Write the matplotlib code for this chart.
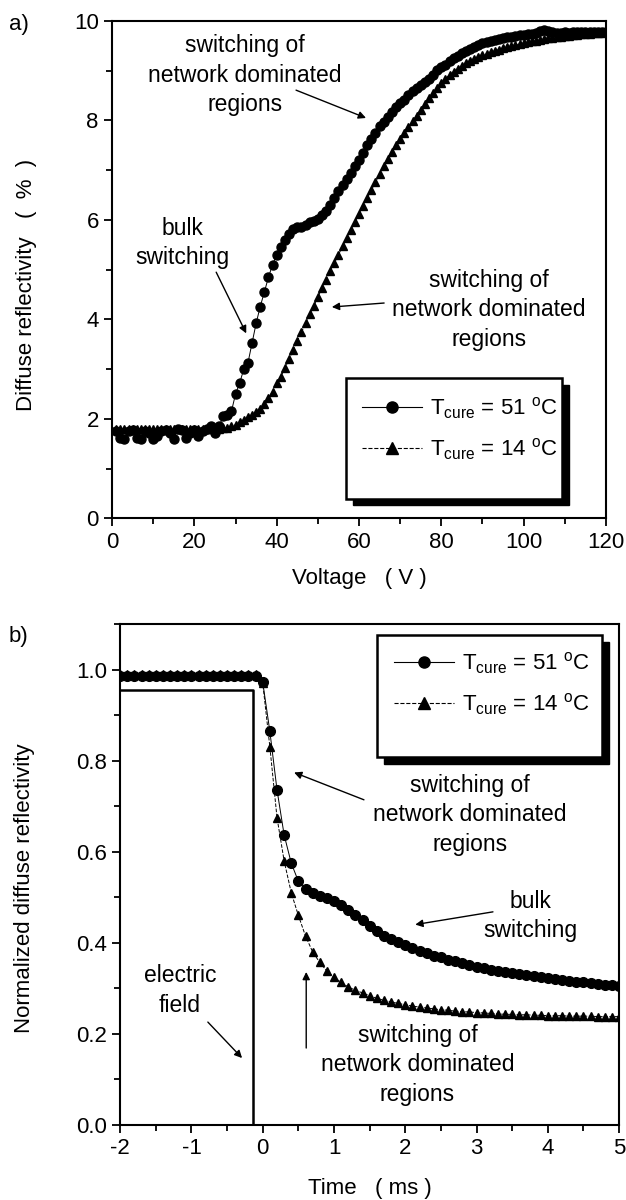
import numpy as np
import matplotlib.pyplot as plt
from matplotlib.patches import Rectangle
from matplotlib.lines import Line2D

plt.rcParams['font.family'] = ['Liberation Sans', 'DejaVu Sans']
plt.rcParams['mathtext.fontset'] = 'custom'
plt.rcParams['mathtext.rm'] = 'Liberation Sans'
plt.rcParams['mathtext.it'] = 'Liberation Sans:italic'
plt.rcParams['axes.unicode_minus'] = False

# =============================
# data: a) reflectivity vs voltage
# =============================
voltage = np.arange(1, 121)
refl_51 = [
    1.75, 1.62, 1.60, 1.75, 1.78, 1.62, 1.60, 1.75, 1.72, 1.60,
    1.65, 1.75, 1.78, 1.72, 1.60, 1.80, 1.78, 1.62, 1.72, 1.78,
    1.65, 1.75, 1.80, 1.85, 1.72, 1.85, 2.05, 2.08, 2.15, 2.50,
    2.72, 3.00, 3.12, 3.52, 3.92, 4.26, 4.55, 4.85, 5.10, 5.30,
    5.45, 5.60, 5.72, 5.82, 5.86, 5.85, 5.90, 5.95, 5.98, 6.02,
    6.10, 6.18, 6.30, 6.45, 6.58, 6.70, 6.82, 6.95, 7.08, 7.20,
    7.35, 7.50, 7.62, 7.74, 7.88, 7.97, 8.08, 8.18, 8.27, 8.36,
    8.42, 8.52, 8.60, 8.66, 8.72, 8.78, 8.84, 8.92, 9.02, 9.08,
    9.12, 9.20, 9.26, 9.30, 9.35, 9.40, 9.44, 9.48, 9.52, 9.55,
    9.58, 9.60, 9.62, 9.64, 9.66, 9.67, 9.68, 9.70, 9.71, 9.72,
    9.73, 9.74, 9.76, 9.80, 9.82, 9.80, 9.77, 9.76, 9.76, 9.77,
    9.76, 9.77, 9.78, 9.77, 9.78, 9.78, 9.77, 9.78, 9.78, 9.78,
]
refl_14 = [
    1.80, 1.80, 1.80, 1.80, 1.80, 1.80, 1.80, 1.80, 1.80, 1.80,
    1.80, 1.80, 1.80, 1.80, 1.80, 1.80, 1.80, 1.80, 1.80, 1.80,
    1.80, 1.80, 1.80, 1.80, 1.80, 1.80, 1.81, 1.82, 1.85, 1.88,
    1.93, 1.98, 2.03, 2.08, 2.13, 2.20, 2.30, 2.42, 2.55, 2.72,
    2.85, 3.02, 3.20, 3.38, 3.56, 3.74, 3.92, 4.10, 4.27, 4.45,
    4.63, 4.80, 4.97, 5.13, 5.30, 5.47, 5.63, 5.80, 5.96, 6.12,
    6.28, 6.44, 6.60, 6.76, 6.92, 7.08, 7.22, 7.36, 7.50, 7.62,
    7.74, 7.86, 7.98, 8.10, 8.22, 8.34, 8.45, 8.56, 8.66, 8.76,
    8.84, 8.92, 8.98, 9.04, 9.10, 9.15, 9.20, 9.24, 9.28, 9.31,
    9.34, 9.37, 9.40, 9.42, 9.45, 9.47, 9.49, 9.51, 9.53, 9.55,
    9.57, 9.59, 9.60, 9.62, 9.63, 9.65, 9.66, 9.67, 9.68, 9.69,
    9.70, 9.71, 9.72, 9.73, 9.74, 9.74, 9.75, 9.76, 9.76, 9.77,
]

# =============================
# data: b) normalized reflectivity vs time
# =============================
time_ms = np.round(np.arange(-2.0, 5.01, 0.1), 2)
norm_51 = [0.985] * 20 + [
    0.972, 0.864, 0.736, 0.637, 0.575, 0.535, 0.518, 0.510, 0.503, 0.498,
    0.492, 0.483, 0.472, 0.460, 0.450, 0.437, 0.426, 0.416, 0.408, 0.401,
    0.395, 0.389, 0.383, 0.377, 0.372, 0.368, 0.363, 0.359, 0.355, 0.351,
    0.347, 0.344, 0.341, 0.338, 0.335, 0.333, 0.331, 0.329, 0.327, 0.325,
    0.323, 0.321, 0.319, 0.317, 0.315, 0.313, 0.311, 0.310, 0.308, 0.307,
    0.305,
]
norm_14 = [0.990] * 20 + [
    0.970, 0.830, 0.675, 0.580, 0.510, 0.460, 0.415, 0.380, 0.357, 0.338,
    0.324, 0.313, 0.303, 0.296, 0.290, 0.284, 0.278, 0.274, 0.270, 0.267,
    0.264, 0.261, 0.259, 0.257, 0.255, 0.253, 0.252, 0.250, 0.249, 0.248,
    0.247, 0.246, 0.245, 0.244, 0.243, 0.243, 0.242, 0.242, 0.241, 0.241,
    0.240, 0.240, 0.240, 0.239, 0.239, 0.239, 0.239, 0.238, 0.238, 0.238,
    0.238,
]
field_t = [-2.0, -0.14, -0.14]
field_v = [0.954, 0.954, 0.0]

label_51 = r'T$_{\mathrm{cure}}$ = 51 $^{\mathrm{o}}$C'
label_14 = r'T$_{\mathrm{cure}}$ = 14 $^{\mathrm{o}}$C'

FS = 16      # ticks / axis labels
FT = 16.5    # annotations
LS = 1.35

fig = plt.figure(figsize=(6.26, 12), dpi=100)
ax1 = fig.add_axes([0.179, 0.568, 0.789, 0.4145])
ax2 = fig.add_axes([0.192, 0.0625, 0.797, 0.4175])

ARROW = dict(arrowstyle='-|>', color='black', lw=1, shrinkA=0, shrinkB=0, mutation_scale=11)


def style_axes(ax):
    for s in ax.spines.values():
        s.set_linewidth(1.5)
    ax.tick_params(which='both', direction='out', width=1.3, labelsize=FS)
    ax.tick_params(which='major', length=6)
    ax.tick_params(which='minor', length=4)


def legend_box(ax, x0, y0, w, h, rows_y, hx):
    # white box with offset black shadow
    ax.add_patch(Rectangle((x0 + 0.014, y0 - 0.014), w, h, transform=ax.transAxes,
                           facecolor='black', edgecolor='black', zorder=5, clip_on=False))
    ax.add_patch(Rectangle((x0, y0), w, h, transform=ax.transAxes,
                           facecolor='white', edgecolor='black', lw=1.8, zorder=6, clip_on=False))
    handles = [
        Line2D([], [], color='black', lw=0.8, ls='-', marker='o', ms=8),
        Line2D([], [], color='black', lw=0.8, ls='--', marker='^', ms=8),
    ]
    leg = ax.legend(handles, [label_51, label_14], loc='upper left',
                    bbox_to_anchor=(hx, rows_y), frameon=False, fontsize=FS,
                    handlelength=2.7, handletextpad=0.35, labelspacing=0.7,
                    borderaxespad=0, borderpad=0)
    leg.set_zorder(7)


# =============================
# a)
# =============================
ax1.plot(voltage, refl_51, color='black', lw=0.7, ls='-', marker='o', ms=6.5)
ax1.plot(voltage, refl_14, color='black', lw=0.7, ls='--', marker='^', ms=5.5)
ax1.set_xlim(0, 120)
ax1.set_ylim(0, 10)
ax1.set_xticks(np.arange(0, 121, 20))
ax1.set_xticks(np.arange(0, 121, 10), minor=True)
ax1.set_yticks(np.arange(0, 11, 2))
ax1.set_yticks(np.arange(0, 11, 1), minor=True)
style_axes(ax1)
ax1.set_xlabel('Voltage   ( V )', fontsize=FS)
ax1.set_ylabel('Diffuse reflectivity   (  %  )', fontsize=FS)
ax1.xaxis.set_label_coords(0.5, -0.099)
ax1.yaxis.set_label_coords(-0.152, 0.47)

ax1.text(32.3, 8.91, 'switching of\nnetwork dominated\nregions', ha='center', va='center',
         fontsize=FT, linespacing=LS)
ax1.annotate('', xy=(61.7, 8.05), xytext=(44.7, 8.61), arrowprops=ARROW)
ax1.text(17.2, 5.53, 'bulk\nswitching', ha='center', va='center', fontsize=FT, linespacing=LS)
ax1.annotate('', xy=(32.6, 3.72), xytext=(25.3, 4.95), arrowprops=ARROW)
ax1.text(91.6, 4.19, 'switching of\nnetwork dominated\nregions', ha='center', va='center',
         fontsize=FT, linespacing=LS)
ax1.annotate('', xy=(53.4, 4.25), xytext=(66.1, 4.33), arrowprops=ARROW)
legend_box(ax1, 0.474, 0.040, 0.437, 0.242, 0.248, 0.506)

# =============================
# b)
# =============================
ax2.plot(field_t, field_v, color='black', lw=1.8)
ax2.plot(time_ms, norm_51, color='black', lw=0.7, ls='-', marker='o', ms=7)
ax2.plot(time_ms, norm_14, color='black', lw=0.7, ls='--', marker='^', ms=5.5)
ax2.set_xlim(-2, 5)
ax2.set_ylim(0, 1.1)
ax2.set_xticks(np.arange(-2, 6, 1))
ax2.set_xticks(np.arange(-2, 5.01, 0.5), minor=True)
ax2.set_yticks(np.arange(0, 1.01, 0.2))
ax2.set_yticks(np.arange(0, 1.11, 0.1), minor=True)
ax2.yaxis.set_major_formatter(plt.FormatStrFormatter('%.1f'))
style_axes(ax2)
ax2.set_xlabel('Time   ( ms )', fontsize=FS)
ax2.set_ylabel('Normalized diffuse reflectivity', fontsize=FS)
ax2.xaxis.set_label_coords(0.5, -0.105)
ax2.yaxis.set_label_coords(-0.17, 0.473)

ax2.text(2.91, 0.681, 'switching of\nnetwork dominated\nregions', ha='center', va='center',
         fontsize=FT, linespacing=LS)
ax2.annotate('', xy=(0.44, 0.774), xytext=(1.42, 0.714), arrowprops=ARROW)
ax2.text(3.76, 0.459, 'bulk\nswitching', ha='center', va='center', fontsize=FT, linespacing=LS)
ax2.annotate('', xy=(2.14, 0.44), xytext=(3.23, 0.468), arrowprops=ARROW)
ax2.text(-1.16, 0.295, 'electric\nfield', ha='center', va='center', fontsize=FT, linespacing=LS)
ax2.annotate('', xy=(-0.29, 0.147), xytext=(-0.77, 0.226), arrowprops=ARROW)
ax2.text(2.17, 0.132, 'switching of\nnetwork dominated\nregions', ha='center', va='center',
         fontsize=FT, linespacing=LS)
ax2.annotate('', xy=(0.61, 0.336), xytext=(0.61, 0.169), arrowprops=ARROW)
legend_box(ax2, 0.515, 0.735, 0.451, 0.243, 0.948, 0.549)

fig.text(0.014, 0.988, 'a)', fontsize=FS, va='top')
fig.text(0.014, 0.478, 'b)', fontsize=FS, va='top')

fig.savefig('out.png', dpi=100)
